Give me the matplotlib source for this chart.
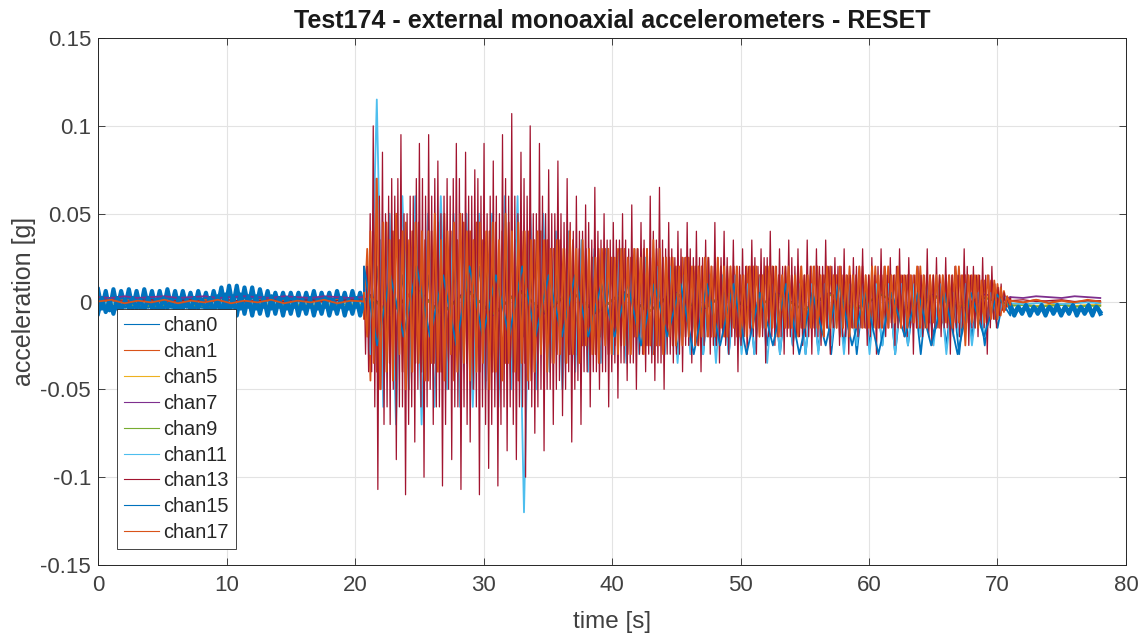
import numpy as np
import matplotlib
matplotlib.use("Agg")
import matplotlib.pyplot as plt

# ---------------- data ----------------
channels = ["chan0", "chan1", "chan5", "chan7", "chan9", "chan11", "chan13", "chan15", "chan17"]
colors = ["#0072BD", "#D95319", "#EDB120", "#7E2F8E", "#77AC30", "#4DBEEE", "#A2142F", "#0072BD", "#D95319"]

t_start, t_event, t_calm, t_end = 0.0, 20.7, 71.0, 78.0

# chan0 (blue)
chan0_pre = [0.007,-0.004,0.006,-0.005,0.007,-0.004,0.006,-0.003,0.007,-0.004,
             0.006,-0.004,0.007,-0.003,0.006,-0.004,0.006,-0.004,0.007,-0.003,
             0.006,-0.004,0.006,-0.003,0.005,-0.004,0.006,-0.003,0.005,-0.004,
             0.006,-0.003,0.008,-0.004,0.009,-0.003,0.009,-0.004,0.008,-0.003,
             0.008,-0.004,0.007,-0.003,0.006,-0.004,0.005,-0.003,0.005,-0.004,
             0.005,-0.003,0.005,-0.004,0.005,-0.003,0.006,-0.004,0.005,-0.003,
             0.005,-0.004,0.006,-0.003,0.005,-0.004,0.006,-0.003,0.005,-0.004]
chan0_act = [0.015,-0.02,0.02,-0.015,0.02,-0.02,0.015,-0.02,0.02,-0.015,0.015,-0.02,0.02,-0.015,0.02,-0.02,0.015,-0.02,0.02,-0.015,
             0.02,-0.02,0.015,-0.025,0.02,-0.02,0.015,-0.02,0.015,-0.02,0.015,-0.02,0.015,-0.02,0.015,-0.02,0.01,-0.02,0.015,-0.02,
             0.01,-0.025,0.015,-0.02,0.01,-0.025,0.01,-0.02,0.015,-0.03,0.01,-0.025,0.01,-0.03,0.01,-0.025,0.01,-0.03,0.01,-0.025,
             0.01,-0.03,0.005,-0.025,0.01,-0.03,0.005,-0.025,0.01,-0.03,0.005,-0.028,0.01,-0.03,0.005,-0.025,0.01,-0.03,0.005,-0.025,
             0.005,-0.025,0.01,-0.03,0.005,-0.025,0.005,-0.03,0.005,-0.02,0.005,-0.025,0.005,-0.03,0.005,-0.02,0.005,-0.025,0.005,-0.015,0.004,-0.006]
chan0_post = [-0.003,-0.008,-0.003,-0.007,-0.002,-0.008,-0.003,-0.007,-0.003,-0.008,-0.002,-0.007,
              -0.003,-0.008,-0.003,-0.007,-0.002,-0.008,-0.003,-0.007,-0.003,-0.008,-0.002,-0.007]

# chan1 (orange)
chan1_pre = [0.0005,-0.0005,0.001,-0.0005,0.0005,-0.001,0.0005,-0.0005,0.001,-0.0005,0.0005,
             -0.0005,0.001,-0.0005,0.0005,-0.001,0.0005,-0.0005,0.001,-0.0005,0.0005]
chan1_act = [-0.01,0.03,-0.045,0.05,-0.04,0.035,-0.05,0.045,-0.035,0.04,-0.045,0.035,-0.04,0.045,-0.05,0.04,-0.035,0.045,-0.04,0.035,
             -0.045,0.04,-0.035,0.045,-0.04,0.05,-0.035,0.04,-0.045,0.035,-0.04,0.045,-0.035,0.04,-0.05,0.045,-0.04,0.035,-0.045,0.04,
             -0.04,0.045,-0.05,0.04,-0.035,0.045,-0.04,0.035,-0.045,0.04,-0.035,0.04,-0.045,0.035,-0.035,0.04,-0.03,0.035,-0.035,0.03,
             -0.03,0.035,-0.035,0.03,-0.03,0.035,-0.03,0.03,-0.025,0.03,-0.03,0.025,-0.03,0.03,-0.025,0.03,-0.03,0.025,-0.025,0.03,
             -0.025,0.03,-0.03,0.025,-0.02,0.03,-0.025,0.03,-0.025,0.025,-0.03,0.03,-0.025,0.025,-0.02,0.025,-0.025,0.02,-0.025,0.025,
             -0.02,0.025,-0.02,0.02,-0.025,0.02,-0.02,0.025,-0.02,0.02,-0.015,0.02,-0.02,0.02,-0.015,0.02,-0.02,0.015,-0.02,0.02,
             -0.015,0.02,-0.02,0.015,-0.015,0.02,-0.015,0.02,-0.02,0.015,-0.015,0.02,-0.015,0.015,-0.02,0.02,-0.015,0.015,-0.015,0.02,
             -0.015,0.02,-0.02,0.015,-0.015,0.02,-0.015,0.015,-0.02,0.015,-0.015,0.02,-0.015,0.015,-0.015,0.02,-0.015,0.015,-0.015,0.02,
             -0.015,0.015,-0.015,0.02,-0.012,0.015,-0.015,0.015,-0.015,0.015,-0.012,0.015,-0.015,0.02,-0.015,0.015,-0.012,0.015,-0.015,0.015,
             -0.012,0.015,-0.015,0.015,-0.012,0.02,-0.015,0.015,-0.012,0.015,-0.015,0.015,-0.012,0.012,-0.01,0.012,-0.01,0.01,-0.008,0.006,-0.003,0.002]
chan1_post = [0.0005,-0.0005,0.001,-0.0005,0.0005,-0.001,0.0005,-0.0005]

# chan5 (yellow)
chan5_pre = [-0.0015,-0.001,-0.002,-0.0015,-0.001,-0.002,-0.0015,-0.001,-0.002,-0.0015,-0.001,
             -0.002,-0.0015,-0.001,-0.002,-0.0015,-0.001,-0.002,-0.0015,-0.001,-0.0015]
chan5_act = [0.006,-0.008,0.008,-0.008,0.007,-0.008,0.007,-0.007,0.006,-0.007,0.006,-0.006,0.006,
             -0.006,0.005,-0.006,0.005,-0.005,0.005,-0.005,0.004,-0.005,0.004,-0.004,0.003,-0.002]
chan5_post = [-0.002,-0.0015,-0.0025,-0.002,-0.0015,-0.0025,-0.002,-0.002]

# chan7 (purple)
chan7_pre = [0.0025,0.002,0.003,0.002,0.0025,0.003,0.002,0.0025,0.003,0.002,0.0025,
             0.003,0.0025,0.002,0.003,0.0025,0.002,0.003,0.0025,0.002,0.0025]
chan7_act = [0.007,-0.007,0.008,-0.007,0.007,-0.008,0.007,-0.007,0.006,-0.007,0.006,-0.006,0.006,
             -0.006,0.005,-0.006,0.005,-0.005,0.005,-0.005,0.004,-0.005,0.004,-0.004,0.004,0.002]
chan7_post = [0.0025,0.002,0.003,0.0025,0.002,0.003,0.0025,0.002]

# chan9 (green)
chan9_pre = [-0.002,-0.0025,-0.0015,-0.002,-0.0025,-0.002,-0.0015,-0.002,-0.0025,-0.002,-0.0015,
             -0.002,-0.0025,-0.002,-0.0015,-0.002,-0.0025,-0.002,-0.0015,-0.002,-0.002]
chan9_act = [0.006,-0.007,0.007,-0.007,0.006,-0.007,0.006,-0.006,0.006,-0.006,0.005,-0.006,0.005,
             -0.005,0.005,-0.005,0.004,-0.005,0.004,-0.004,0.004,-0.004,0.003,-0.003,0.002,-0.002]
chan9_post = [-0.0025,-0.002,-0.003,-0.0025,-0.002,-0.003,-0.0025,-0.0025]

# chan11 (light blue)
chan11_pre = [-0.001,-0.0005,-0.0015,-0.001,-0.0005,-0.0015,-0.001,-0.0005,-0.0015,-0.001,-0.0005,
              -0.0015,-0.001,-0.0005,-0.0015,-0.001,-0.0005,-0.0015,-0.001,-0.0005,-0.001]
chan11_act = [0.01,-0.03,0.115,-0.06,0.05,-0.07,0.06,-0.05,0.06,-0.07,0.05,-0.06,0.06,-0.05,0.05,-0.06,0.05,-0.06,0.05,-0.05,
              0.05,-0.06,0.06,-0.05,0.06,-0.12,0.05,-0.05,0.05,-0.04,0.04,-0.05,0.04,-0.04,0.035,-0.04,0.03,-0.035,0.03,-0.03,
              0.03,-0.035,0.025,-0.03,0.025,-0.03,0.02,-0.03,0.02,-0.035,0.015,-0.03,0.015,-0.03,0.015,-0.035,0.015,-0.03,0.015,-0.03,
              0.01,-0.03,0.015,-0.035,0.01,-0.03,0.01,-0.025,0.01,-0.03,0.01,-0.03,0.01,-0.025,0.01,-0.03,0.01,-0.025,0.01,-0.03,
              0.01,-0.025,0.01,-0.03,0.01,-0.025,0.01,-0.02,0.01,-0.025,0.01,-0.03,0.005,-0.02,0.01,-0.025,0.005,-0.02,0.005,-0.01,0.003,-0.002]
chan11_post = [-0.001,-0.0015,-0.001,-0.0005,-0.0015,-0.001,-0.0005,-0.001]

# chan13 (dark red): main peaks and the two secondary samples between each pair of peaks
chan13_pre = [0.0005,0.001,0.0,0.0005,0.001,0.0,0.0005,0.001,0.0,0.0005,0.001,
              0.0,0.0005,0.001,0.0,0.0005,0.001,0.0,0.0005,0.001,0.0005]
chan13_peaks = [0.02,-0.04,0.10,-0.107,0.085,-0.06,0.07,-0.09,0.095,-0.11,0.06,-0.08,0.09,-0.10,
                0.095,-0.07,0.08,-0.105,0.07,-0.09,0.09,-0.107,0.085,-0.08,0.075,-0.11,0.09,-0.095,
                0.08,-0.105,0.095,-0.085,0.107,-0.09,0.085,-0.10,0.10,-0.075,0.09,-0.085,0.075,-0.07,
                0.08,-0.065,0.07,-0.08,0.06,-0.07,0.055,-0.06,0.065,-0.05,0.05,-0.06,0.045,-0.055,
                0.05,-0.045,0.055,-0.05,0.045,-0.04,0.06,-0.045,0.065,-0.05,0.045,-0.035,0.04,-0.04,
                0.045,-0.035,0.04,-0.04,0.035,-0.03,0.045,-0.035,0.04,-0.03,0.035,-0.04,0.03,-0.03,
                0.035,-0.03,0.03,-0.035,0.04,-0.025,0.03,-0.03,0.035,-0.03,0.03,-0.025,0.035,-0.03,
                0.03,-0.025,0.035,-0.03,0.025,-0.025,0.03,-0.03,0.025,-0.02,0.03,-0.025,0.025,-0.03,
                0.03,-0.02,0.025,-0.025,0.03,-0.02,0.025,-0.03,0.02,-0.02,0.03,-0.025,0.025,-0.02,
                0.025,-0.03,0.02,-0.02,0.03,-0.025,0.02,-0.02,0.025,-0.03,0.02,-0.015,0.01,-0.005,0.002]
chan13_between = [-0.03,0.02, 0.05,-0.04, -0.06,0.07, 0.06,-0.05, -0.07,0.05, 0.06,-0.07, -0.05,0.06,
                  0.07,-0.06, -0.06,0.05, 0.05,-0.07, -0.06,0.06, 0.07,-0.05, -0.06,0.07, 0.06,-0.06,
                  -0.05,0.06, 0.07,-0.06, -0.06,0.05, 0.06,-0.07, -0.05,0.06, 0.07,-0.06, -0.06,0.07,
                  0.05,-0.06, -0.07,0.06, 0.06,-0.05, -0.06,0.07, 0.06,-0.06, -0.07,0.05, 0.06,-0.07,
                  -0.06,0.06, 0.05,-0.07, -0.06,0.07, 0.06,-0.06, -0.07,0.06, 0.05,-0.06, -0.06,0.07,
                  0.06,-0.05, -0.06,0.05, 0.05,-0.06, -0.05,0.06, 0.05,-0.05, -0.05,0.05, 0.05,-0.05,
                  -0.045,0.05, 0.045,-0.05, -0.04,0.045, 0.04,-0.05, -0.045,0.04, 0.04,-0.04, -0.04,0.045,
                  0.035,-0.04, -0.04,0.04, 0.035,-0.04, -0.04,0.035, 0.035,-0.04, -0.035,0.035, 0.035,-0.035,
                  -0.035,0.035, 0.03,-0.035, -0.035,0.03, 0.03,-0.03, -0.03,0.035, 0.03,-0.03, -0.035,0.04,
                  0.035,-0.035, -0.035,0.035, 0.03,-0.03, -0.03,0.03, 0.025,-0.03, -0.03,0.03, 0.025,-0.025,
                  -0.025,0.03, 0.025,-0.025, -0.025,0.025, 0.025,-0.025, -0.02,0.025, 0.02,-0.025, -0.025,0.025,
                  0.025,-0.02, -0.025,0.025, 0.02,-0.02, -0.025,0.02, 0.02,-0.025, -0.02,0.02, 0.02,-0.02,
                  -0.02,0.025, 0.02,-0.02, -0.02,0.025, 0.025,-0.02, -0.02,0.02, 0.02,-0.02, -0.02,0.02,
                  0.02,-0.02, -0.02,0.025, 0.02,-0.02, -0.02,0.02, 0.015,-0.02, -0.02,0.02, 0.02,-0.02,
                  -0.02,0.02, 0.02,-0.02, -0.015,0.02, 0.02,-0.015, -0.015,0.02, 0.02,-0.02, -0.02,0.015,
                  0.015,-0.015, -0.015,0.02, 0.02,-0.015, -0.015,0.015, 0.015,-0.02, -0.015,0.015, 0.02,-0.015,
                  -0.015,0.02, 0.015,-0.015, -0.015,0.015, 0.02,-0.015, -0.015,0.015, 0.015,-0.02, -0.015,0.015,
                  0.015,-0.015, -0.015,0.015, 0.015,-0.015, -0.02,0.015, 0.015,-0.015, -0.015,0.015, 0.015,-0.015,
                  -0.015,0.015, 0.015,-0.02, -0.015,0.015, 0.015,-0.015, -0.015,0.02, 0.015,-0.015, -0.015,0.015,
                  0.015,-0.015, -0.015,0.015, 0.015,-0.015, -0.01,0.01, 0.008,-0.008, -0.005,0.005, 0.003,-0.002]
chan13_post = [0.0005,0.001,0.0,0.0005,0.001,0.0,0.0005,0.0005]

# chan15 (blue)
chan15_pre = [-0.007,0.002,-0.006,0.001,-0.007,0.002,-0.005,0.001,-0.004,0.002,
              -0.004,0.001,-0.005,0.002,-0.004,0.001,-0.005,0.002,-0.004,0.001,
              -0.005,0.002,-0.004,0.001,-0.005,0.002,-0.004,0.001,-0.005,0.002,
              -0.007,0.003,-0.008,0.004,-0.007,0.003,-0.008,0.004,-0.007,0.003,
              -0.008,0.003,-0.007,0.002,-0.008,0.003,-0.007,0.002,-0.008,0.002,
              -0.007,0.002,-0.008,0.001,-0.007,0.002,-0.008,0.001,-0.007,0.002,
              -0.008,0.001,-0.007,0.002,-0.008,0.001,-0.007,0.002,-0.008,0.001]
chan15_act = [0.02,-0.025,0.015,-0.02,0.02,-0.02,0.015,-0.025,0.02,-0.02,
              0.015,-0.02,0.02,-0.02,0.015,-0.02,0.015,-0.02,0.01,-0.02,
              0.01,-0.025,0.01,-0.02,0.01,-0.03,0.01,-0.025,0.01,-0.03,
              0.005,-0.025,0.01,-0.03,0.005,-0.025,0.01,-0.025,0.005,-0.03,
              0.005,-0.02,0.005,-0.025,0.005,-0.03,0.005,-0.02,0.004,-0.008]
chan15_post = [-0.002,-0.007,-0.003,-0.006,-0.002,-0.007,-0.003,-0.006,-0.002,-0.007,-0.003,-0.006,
               -0.002,-0.007,-0.003,-0.006,-0.002,-0.007,-0.003,-0.006,-0.002,-0.007,-0.003,-0.006]

# chan17 (orange)
chan17_pre = [0.0,0.001,-0.001,0.0005,-0.0005,0.001,-0.001,0.0005,-0.0005,0.001,-0.001,
              0.0005,-0.0005,0.001,-0.001,0.0005,-0.0005,0.001,-0.001,0.0005,0.0]
chan17_act = [0.005,-0.02,0.04,-0.035,0.07,-0.05,0.045,-0.04,0.035,-0.045,0.05,-0.03,0.04,-0.05,0.035,-0.04,0.045,-0.035,0.04,-0.045,
              0.04,-0.035,0.05,-0.04,0.035,-0.045,0.04,-0.03,0.045,-0.04,0.05,-0.035,0.04,-0.045,0.035,-0.04,0.045,-0.035,0.04,-0.05,
              0.045,-0.04,0.035,-0.045,0.05,-0.035,0.04,-0.04,0.045,-0.035,0.04,-0.045,0.035,-0.04,0.04,-0.03,0.035,-0.04,0.03,-0.035,
              0.035,-0.03,0.03,-0.035,0.04,-0.03,0.03,-0.035,0.035,-0.025,0.03,-0.03,0.025,-0.035,0.03,-0.025,0.03,-0.03,0.025,-0.03,
              0.03,-0.025,0.025,-0.03,0.03,-0.02,0.025,-0.03,0.03,-0.025,0.035,-0.025,0.03,-0.03,0.025,-0.02,0.025,-0.025,0.02,-0.025,
              0.025,-0.02,0.02,-0.025,0.02,-0.02,0.025,-0.02,0.02,-0.02,0.025,-0.015,0.02,-0.02,0.02,-0.015,0.02,-0.02,0.015,-0.02,
              0.02,-0.015,0.02,-0.02,0.015,-0.015,0.02,-0.015,0.02,-0.02,0.015,-0.015,0.02,-0.015,0.015,-0.02,0.02,-0.015,0.015,-0.015,
              0.02,-0.015,0.015,-0.02,0.02,-0.015,0.015,-0.015,0.02,-0.015,0.015,-0.02,0.015,-0.015,0.02,-0.015,0.015,-0.015,0.02,-0.015,
              0.015,-0.015,0.02,-0.015,0.015,-0.012,0.02,-0.015,0.015,-0.015,0.015,-0.012,0.02,-0.015,0.015,-0.015,0.015,-0.012,0.015,-0.015,
              0.015,-0.012,0.015,-0.015,0.02,-0.012,0.015,-0.025,0.015,-0.012,0.015,-0.015,0.012,-0.012,0.015,-0.01,0.012,-0.01,0.008,-0.006,0.003,-0.002]
chan17_post = [0.0005,-0.0005,0.001,-0.001,0.0005,-0.0005,0.001,0.0]

# chan13 active record: peaks with their two in-between samples, in time order
chan13_act = []
for i, p in enumerate(chan13_peaks):
    chan13_act.append(p)
    if i < len(chan13_peaks) - 1:
        chan13_act.extend(chan13_between[2 * i:2 * i + 2])

series = {
    "chan0": (chan0_pre, chan0_act, chan0_post),
    "chan1": (chan1_pre, chan1_act, chan1_post),
    "chan5": (chan5_pre, chan5_act, chan5_post),
    "chan7": (chan7_pre, chan7_act, chan7_post),
    "chan9": (chan9_pre, chan9_act, chan9_post),
    "chan11": (chan11_pre, chan11_act, chan11_post),
    "chan13": (chan13_pre, chan13_act, chan13_post),
    "chan15": (chan15_pre, chan15_act, chan15_post),
    "chan17": (chan17_pre, chan17_act, chan17_post),
}
# line widths: (quiet segments, strong-motion segment)
line_widths = {"chan0": (3.0, 1.3), "chan15": (3.0, 1.3), "chan13": (0.9, 0.9)}

x_ticks = [0, 10, 20, 30, 40, 50, 60, 70, 80]
y_ticks = [-0.15, -0.1, -0.05, 0, 0.05, 0.1, 0.15]
y_tick_labels = ["-0.15", "-0.1", "-0.05", "0", "0.05", "0.1", "0.15"]

# ---------------- plot ----------------
plt.rcParams['font.family'] = ['Liberation Sans', 'DejaVu Sans']
fig = plt.figure(figsize=(11.45, 6.38), dpi=100)
ax = fig.add_axes([0.0856, 0.1144, 0.8978, 0.826])

handles = []
for name, col in zip(channels, colors):
    pre, act, post = series[name]
    lw_q, lw_a = line_widths.get(name, (1.3, 1.3))
    t_pre = np.linspace(t_start, t_event, len(pre))
    t_act = np.linspace(t_event, t_calm, len(act))
    t_post = np.linspace(t_calm, t_end, len(post))
    h, = ax.plot(np.concatenate([[t_pre[-1]], t_act, [t_post[0]]]),
                 np.concatenate([[pre[-1]], act, [post[0]]]), color=col, lw=lw_a, label=name)
    ax.plot(t_pre, pre, color=col, lw=lw_q)
    ax.plot(t_post, post, color=col, lw=lw_q)
    handles.append(h)

ax.set_xlim(0, 80)
ax.set_ylim(-0.15, 0.15)
ax.set_xticks(x_ticks)
ax.set_yticks(y_ticks, y_tick_labels)
ax.grid(True, color="#e3e3e3", lw=0.8)
ax.set_axisbelow(True)
ax.tick_params(direction="in", top=True, right=True, length=5, width=0.6,
               colors="#262626", labelsize=16, labelcolor="#404040", pad=5)
ax.tick_params(axis="x", pad=7)
for s in ax.spines.values():
    s.set_color("#262626")
    s.set_linewidth(0.7)

ax.set_xlabel("time [s]", fontsize=17.5, color="#404040", labelpad=11)
ax.set_ylabel("acceleration [g]", fontsize=18, color="#404040", labelpad=3)
ax.set_title("Test174 - external monoaxial accelerometers - RESET", fontsize=18,
             fontweight="bold", color="#1a1a1a", pad=7)

leg = ax.legend(handles=handles, loc="lower left", bbox_to_anchor=(0.0185, 0.030), fontsize=14.4,
                frameon=True, fancybox=False, framealpha=1, edgecolor="#262626",
                handlelength=1.75, handletextpad=0.2, labelspacing=0.345, borderpad=0.35,
                borderaxespad=0)
leg.get_frame().set_linewidth(0.6)
for h in leg.legend_handles:
    h.set_linewidth(0.8)
for txt in leg.get_texts():
    txt.set_color("#262626")

fig.savefig("out.png", dpi=100)
